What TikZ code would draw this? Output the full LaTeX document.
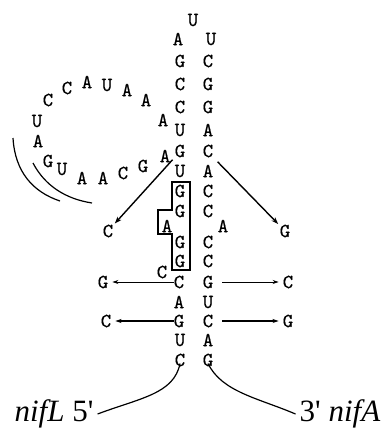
\documentclass[tikz,border=0pt]{standalone}
\usepackage{fontspec}
\setmainfont{Liberation Serif}
\newfontfamily\ntfont[FakeBold=0.4]{lmmono10-regular.otf}
\usetikzlibrary{arrows.meta}
\begin{document}
\begin{tikzpicture}[x=1pt,y=-1pt,
  nt/.style={font=\ntfont\fontsize{20}{20}\selectfont, inner sep=0pt},
  lbl/.style={font=\fontsize{31}{31}\selectfont, inner sep=0pt},
  bigarr/.style={line width=1.4pt, -{Stealth[length=7pt,width=5pt]}},
  thinarr/.style={line width=0.7pt, -{Stealth[length=6pt,width=4pt]}},
  thickarr/.style={line width=1.3pt, -{Stealth[length=6pt,width=4pt]}},
  strand/.style={line width=1.2pt},
  pairbox/.style={line width=1.4pt}]
\useasboundingbox (0,0) rectangle (383,434);

% apical loop
\node[nt] (T) at (193,20) {U};

% 5' strand of the stem (left column)
\foreach \n/\t/\x/\y in {L1/A/178/39, L2/G/180/61, L3/C/180/84, L4/C/180/107,
    L5/U/180/130, L6/G/180/151, L7/U/180/171, L8/G/180/191, L9/G/180/211,
    LA/A/167/226, L10/G/180/242, L11/G/180/261, LC/C/162/272, L12/C/179/282,
    L13/A/179/302, L14/G/179/321, L15/U/180/340, L16/C/180/360}
  \node[nt] (\n) at (\x,\y) {\t};

% 3' strand of the stem (right column)
\foreach \n/\t/\x/\y in {R1/U/211/39, R2/C/208/61, R3/G/208/84, R4/G/208/107,
    R5/A/208/130, R6/C/208/151, R7/A/208/171, R8/C/208/191, R9/C/208/211,
    RA/A/223/226, R10/C/208/242, R11/C/208/261, R12/G/208/282,
    R13/U/208/302, R14/C/208/321, R15/A/208/340, R16/G/208/360}
  \node[nt] (\n) at (\x,\y) {\t};

% large internal loop
\foreach \n/\t/\x/\y in {P1/A/163/120, P2/A/146/100, P3/A/127/90, P4/U/107/85,
    P5/A/87/82, P6/C/67/88, P7/C/48/100, P8/U/37/121, P9/A/38/141,
    P10/G/48/161, P11/U/62/169, P12/A/82/178, P13/A/103/178, P14/C/123/173,
    P15/G/143/166, P16/A/165/156}
  \node[nt] (\n) at (\x,\y) {\t};

% pairing arcs beside the loop
\draw[strand] (13,138) .. controls (15,172) and (33,192) .. (60,201);
\draw[strand] (33,163) .. controls (45,186) and (66,199) .. (92,203);

% boxed stretch of the 5' strand
\draw[pairbox] (172,182) -- (190,182) -- (190,270) -- (172,270) -- (172,234)
  -- (158,234) -- (158,210) -- (172,210) -- cycle;

% substitutions
\node[nt] (mC) at (108,231) {C};
\node[nt] (mG) at (285,231) {G};
\node[nt] (sG1) at (103,282) {G};
\node[nt] (sC1) at (288,282) {C};
\node[nt] (sC2) at (106,321) {C};
\node[nt] (sG2) at (288,321) {G};

\draw[bigarr, shorten <=3pt, shorten >=2pt] (L6.south west) -- (mC);
\draw[bigarr, shorten <=6pt, shorten >=2pt] (R6.south east) -- (mG);
\draw[thinarr, shorten >=4pt] (L12.west) -- (sG1);
\draw[thinarr, shorten <=9pt, shorten >=4pt] (R12.east) -- (sC1);
\draw[thickarr, shorten >=4pt] (L14.west) -- (sC2);
\draw[thickarr, shorten <=9pt, shorten >=4pt] (R14.east) -- (sG2);

% flanking sequences
\node[lbl] (nifL) at (54,414) {\textit{nifL} 5\textquotesingle};
\node[lbl] (nifA) at (340,414) {3\textquotesingle\ \textit{nifA}};
\draw[strand] ([yshift=3pt]L16.south) .. controls (174,394) and (140,398) .. ([xshift=4pt]nifL.east);
\draw[strand] ([yshift=3pt]R16.south) .. controls (222,392) and (258,398) .. ([xshift=-4pt]nifA.west);
\end{tikzpicture}
\end{document}
